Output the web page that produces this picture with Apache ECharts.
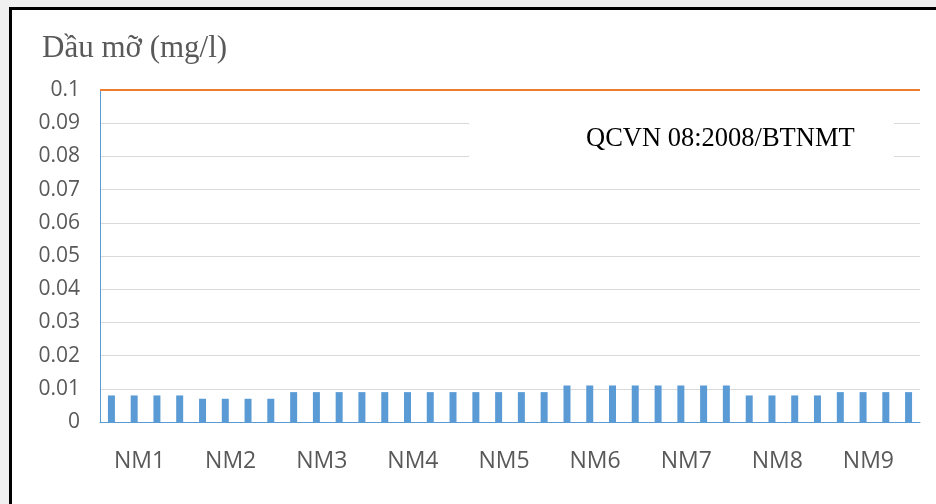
<!DOCTYPE html>
<html>
<head>
<meta charset="utf-8">
<script src="https://cdn.jsdelivr.net/npm/echarts@6/dist/echarts.min.js"></script>
<style>
  html, body { margin:0; padding:0; background:#f0f0f0; width:936px; height:504px; overflow:hidden; }
  #frame { position:absolute; left:9px; top:7px; width:1000px; height:600px; background:#fff; border-left:3px solid #000; border-top:3px solid #000; }
  #chart { position:absolute; left:0; top:0; width:936px; height:504px; }
</style>
</head>
<body>
<div id="frame"></div>
<div id="chart"></div>
<script>
const categories = ['NM1','NM2','NM3','NM4','NM5','NM6','NM7','NM8','NM9'];
const lan1 = [0.008,0.007,0.009,0.009,0.009,0.011,0.011,0.008,0.009];
const lan2 = [0.008,0.007,0.009,0.009,0.009,0.011,0.011,0.008,0.009];
const lan3 = [0.008,0.007,0.009,0.009,0.009,0.011,0.011,0.008,0.009];
const lan4 = [0.008,0.007,0.009,0.009,0.009,0.011,0.011,0.008,0.009];
const limitValue = 0.1;
const yTitle = 'Dầu mỡ (mg/l)';
const limitLabel = 'QCVN 08:2008/BTNMT';

const chart = echarts.init(document.getElementById('chart'), null, {renderer:'canvas'});
const barStyle = { color:'#5B9BD5' };
function mk(name, data, extra) {
  return Object.assign({
    name: name, type:'bar', data: data, barWidth: 7, barGap: '225%',
    itemStyle: barStyle, silent: true
  }, extra || {});
}
chart.setOption({
  backgroundColor: 'transparent',
  animation: false,
  grid: { left:100, right:16, top:90, bottom:82, containLabel:false },
  xAxis: {
    type:'category', data: categories,
    axisLine: { show:true, lineStyle:{ color:'#5B9BD5', width:1 } },
    axisTick: { show:false },
    axisLabel: { color:'#595959', fontFamily:'Open Sans', fontSize:23, margin:28,
      padding:[0, 12, 0, 0] }
  },
  yAxis: {
    type:'value', min:0, max:0.1, interval:0.01,
    axisLine: { show:true, lineStyle:{ color:'#5B9BD5', width:1 } },
    axisTick: { show:false },
    splitLine: { lineStyle:{ color:'#d9d9d9', width:1 } },
    axisLabel: { color:'#595959', fontFamily:'Open Sans', fontSize:21, margin:20,
      formatter: v => String(+v.toFixed(3)) }
  },
  series: [
    mk('Lần 1', lan1, {
      markLine: {
        silent:true, symbol:['none','none'], label:{show:false},
        lineStyle:{ color:'#ED7D31', width:2, type:'solid' },
        data: [{ yAxis: limitValue }]
      }
    }),
    mk('Lần 2', lan2),
    mk('Lần 3', lan3),
    mk('Lần 4', lan4)
  ],
  graphic: [
    { type:'text', left:42, top:33, z:100,
      style:{ text: yTitle, fill:'#595959', font:'31px "Liberation Serif"' } },
    { type:'rect', z:100, shape:{ x:469, y:100, width:425, height:75 }, style:{ fill:'#fff' } },
    { type:'text', left:586, top:126, z:101,
      style:{ text: limitLabel, fill:'#000', font:'26.5px "Liberation Serif"' } }
  ]
});
</script>
</body>
</html>
